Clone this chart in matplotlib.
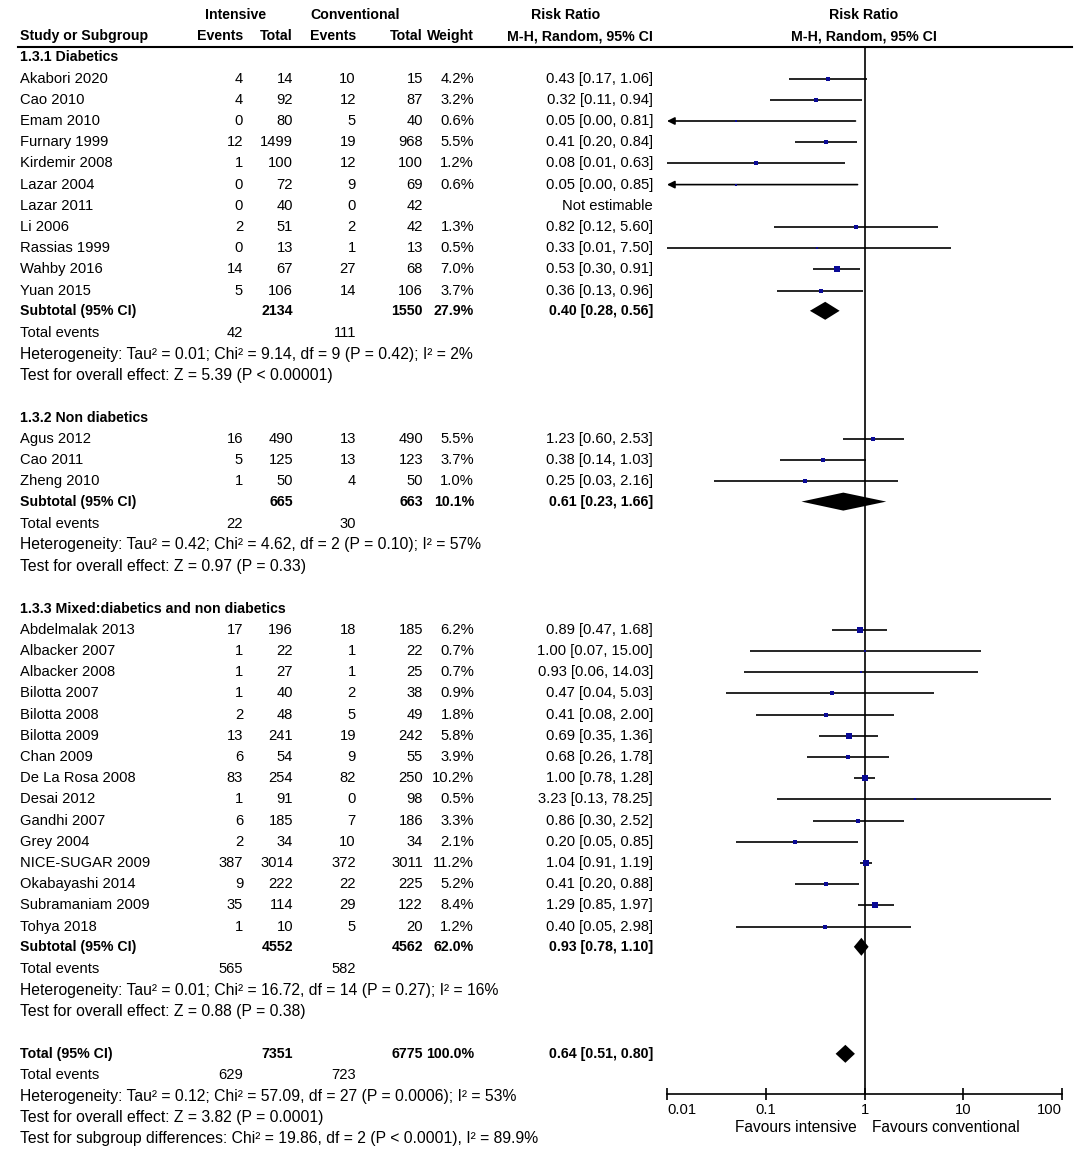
import numpy as np
import matplotlib
matplotlib.use("Agg")
import matplotlib.pyplot as plt

plt.rcParams['font.family'] = ['Liberation Sans', 'DejaVu Sans']

# subgroup 1.3.1
diab_names = ["Akabori 2020", "Cao 2010", "Emam 2010", "Furnary 1999", "Kirdemir 2008", "Lazar 2004",
              "Lazar 2011", "Li 2006", "Rassias 1999", "Wahby 2016", "Yuan 2015"]
diab_ev_i = [4, 4, 0, 12, 1, 0, 0, 2, 0, 14, 5]
diab_tot_i = [14, 92, 80, 1499, 100, 72, 40, 51, 13, 67, 106]
diab_ev_c = [10, 12, 5, 19, 12, 9, 0, 2, 1, 27, 14]
diab_tot_c = [15, 87, 40, 968, 100, 69, 42, 42, 13, 68, 106]
diab_w = [4.2, 3.2, 0.6, 5.5, 1.2, 0.6, None, 1.3, 0.5, 7.0, 3.7]
diab_rr = [0.43, 0.32, 0.05, 0.41, 0.08, 0.05, None, 0.82, 0.33, 0.53, 0.36]
diab_lo = [0.17, 0.11, 0.00, 0.20, 0.01, 0.00, None, 0.12, 0.01, 0.30, 0.13]
diab_hi = [1.06, 0.94, 0.81, 0.84, 0.63, 0.85, None, 5.60, 7.50, 0.91, 0.96]

# subgroup 1.3.2
nond_names = ["Agus 2012", "Cao 2011", "Zheng 2010"]
nond_ev_i = [16, 5, 1]
nond_tot_i = [490, 125, 50]
nond_ev_c = [13, 13, 4]
nond_tot_c = [490, 123, 50]
nond_w = [5.5, 3.7, 1.0]
nond_rr = [1.23, 0.38, 0.25]
nond_lo = [0.60, 0.14, 0.03]
nond_hi = [2.53, 1.03, 2.16]

# subgroup 1.3.3
mix_names = ["Abdelmalak 2013", "Albacker 2007", "Albacker 2008", "Bilotta 2007", "Bilotta 2008",
             "Bilotta 2009", "Chan 2009", "De La Rosa 2008", "Desai 2012", "Gandhi 2007", "Grey 2004",
             "NICE-SUGAR 2009", "Okabayashi 2014", "Subramaniam 2009", "Tohya 2018"]
mix_ev_i = [17, 1, 1, 1, 2, 13, 6, 83, 1, 6, 2, 387, 9, 35, 1]
mix_tot_i = [196, 22, 27, 40, 48, 241, 54, 254, 91, 185, 34, 3014, 222, 114, 10]
mix_ev_c = [18, 1, 1, 2, 5, 19, 9, 82, 0, 7, 10, 372, 22, 29, 5]
mix_tot_c = [185, 22, 25, 38, 49, 242, 55, 250, 98, 186, 34, 3011, 225, 122, 20]
mix_w = [6.2, 0.7, 0.7, 0.9, 1.8, 5.8, 3.9, 10.2, 0.5, 3.3, 2.1, 11.2, 5.2, 8.4, 1.2]
mix_rr = [0.89, 1.00, 0.93, 0.47, 0.41, 0.69, 0.68, 1.00, 3.23, 0.86, 0.20, 1.04, 0.41, 1.29, 0.40]
mix_lo = [0.47, 0.07, 0.06, 0.04, 0.08, 0.35, 0.26, 0.78, 0.13, 0.30, 0.05, 0.91, 0.20, 0.85, 0.05]
mix_hi = [1.68, 15.00, 14.03, 5.03, 2.00, 1.36, 1.78, 1.28, 78.25, 2.52, 0.85, 1.19, 0.88, 1.97, 2.98]

group_titles = ["1.3.1 Diabetics", "1.3.2 Non diabetics", "1.3.3 Mixed:diabetics and non diabetics"]
sub_tot_i = [2134, 665, 4552]
sub_tot_c = [1550, 663, 4562]
sub_w = [27.9, 10.1, 62.0]
sub_rr = [0.40, 0.61, 0.93]
sub_lo = [0.28, 0.23, 0.78]
sub_hi = [0.56, 1.66, 1.10]
sub_ev_i = [42, 22, 565]
sub_ev_c = [111, 30, 582]
sub_het = ["Heterogeneity: Tau\u00b2 = 0.01; Chi\u00b2 = 9.14, df = 9 (P = 0.42); I\u00b2 = 2%",
           "Heterogeneity: Tau\u00b2 = 0.42; Chi\u00b2 = 4.62, df = 2 (P = 0.10); I\u00b2 = 57%",
           "Heterogeneity: Tau\u00b2 = 0.01; Chi\u00b2 = 16.72, df = 14 (P = 0.27); I\u00b2 = 16%"]
sub_test = ["Test for overall effect: Z = 5.39 (P < 0.00001)",
            "Test for overall effect: Z = 0.97 (P = 0.33)",
            "Test for overall effect: Z = 0.88 (P = 0.38)"]

total_tot_i, total_tot_c, total_w = 7351, 6775, 100.0
total_rr, total_lo, total_hi = 0.64, 0.51, 0.80
total_ev_i, total_ev_c = 629, 723
total_het = "Heterogeneity: Tau\u00b2 = 0.12; Chi\u00b2 = 57.09, df = 27 (P = 0.0006); I\u00b2 = 53%"
total_test = "Test for overall effect: Z = 3.82 (P = 0.0001)"
subgroup_test = "Test for subgroup differences: Chi\u00b2 = 19.86, df = 2 (P < 0.0001), I\u00b2 = 89.9%"

xticks = [0.01, 0.1, 1, 10, 100]
xtick_labels = ["0.01", "0.1", "1", "10", "100"]

groups = [
    (diab_names, diab_ev_i, diab_tot_i, diab_ev_c, diab_tot_c, diab_w, diab_rr, diab_lo, diab_hi),
    (nond_names, nond_ev_i, nond_tot_i, nond_ev_c, nond_tot_c, nond_w, nond_rr, nond_lo, nond_hi),
    (mix_names, mix_ev_i, mix_tot_i, mix_ev_c, mix_tot_c, mix_w, mix_rr, mix_lo, mix_hi),
]

W, H = 1084, 1156
FS = 10.6
FS_BOLD = 10.2
FS_STAT = 11.3
x_name, x_ev1, x_tot1, x_ev2, x_tot2, x_w, x_rr = 20, 243, 293, 356, 423, 474, 653
plot_l, plot_r = 667, 1062
axis_y, head_y = 1094, 47


def row_y(i):
    return 15 + 21.2 * i


fig = plt.figure(figsize=(W / 100, H / 100), dpi=100)
ax = fig.add_axes([0, 0, 1, 1])
ax.set_xlim(0, W)
ax.set_ylim(H, 0)
ax.axis('off')

fx = fig.add_axes([plot_l / W, 1 - axis_y / H, (plot_r - plot_l) / W, (axis_y - head_y) / H])
fx.set_xscale('log')
fx.set_xlim(0.01, 100)
fx.set_ylim(axis_y, head_y)
fx.patch.set_alpha(0)
for s in ['top', 'left', 'right']:
    fx.spines[s].set_visible(False)
fx.spines['bottom'].set_linewidth(1.2)
fx.set_yticks([])
fx.set_xticks(xticks)
fx.minorticks_off()
fx.set_xticklabels(xtick_labels, fontsize=FS)
fx.tick_params(axis='x', direction='inout', length=9, width=1.2, pad=2)
labs = fx.get_xticklabels()
labs[0].set_ha('left')
labs[-1].set_ha('right')
fx.axvline(1, color='black', lw=1.2, clip_on=False)


def txt(x, y, s, ha='right', bold=False, size=None):
    if size is None:
        size = FS_BOLD if bold else FS
    ax.text(x, y, s, ha=ha, va='center', fontsize=size, fontweight='bold' if bold else 'normal')


def diamond(y, rr, lo, hi):
    fx.fill([lo, rr, hi, rr], [y, y - 9, y, y + 9], color='black', lw=0)


# header
txt(236, row_y(0), "Intensive", ha='center', bold=True)
txt(355, row_y(0), "Conventional", ha='center', bold=True)
txt(566, row_y(0), "Risk Ratio", ha='center', bold=True)
txt(864, row_y(0), "Risk Ratio", ha='center', bold=True)
txt(x_name, row_y(1), "Study or Subgroup", ha='left', bold=True)
for x, s in [(x_ev1, "Events"), (x_tot1, "Total"), (x_ev2, "Events"), (x_tot2, "Total"), (x_w, "Weight"),
             (x_rr, "M-H, Random, 95% CI")]:
    txt(x, row_y(1), s, bold=True)
txt(864, row_y(1), "M-H, Random, 95% CI", ha='center', bold=True)
ax.plot([18, 1072], [head_y, head_y], color='black', lw=1.5)

i = 2
for g, (names, evi, toti, evc, totc, w, rr, lo, hi) in enumerate(groups):
    txt(x_name, row_y(i), group_titles[g], ha='left', bold=True)
    i += 1
    for k in range(len(names)):
        y = row_y(i)
        txt(x_name, y, names[k], ha='left')
        txt(x_ev1, y, str(evi[k]))
        txt(x_tot1, y, str(toti[k]))
        txt(x_ev2, y, str(evc[k]))
        txt(x_tot2, y, str(totc[k]))
        if rr[k] is None:
            txt(x_rr, y, "Not estimable")
        else:
            txt(x_w, y, "%.1f%%" % w[k])
            txt(x_rr, y, "%.2f [%.2f, %.2f]" % (rr[k], lo[k], hi[k]))
            if lo[k] < 0.01:
                fx.annotate('', xy=(0.01, y), xytext=(hi[k], y),
                            arrowprops=dict(arrowstyle='-|>', color='black', lw=1.2,
                                            mutation_scale=11, shrinkA=0, shrinkB=0),
                            annotation_clip=False)
            else:
                fx.plot([lo[k], hi[k]], [y, y], color='black', lw=1.2, solid_capstyle='butt')
            side = 1.8 + 1.35 * np.sqrt(w[k])
            fx.scatter([rr[k]], [y], marker='s', s=(side * 0.72) ** 2, color='#0a0a96', lw=0, zorder=3)
        i += 1
    y = row_y(i) - 1
    txt(x_name, y, "Subtotal (95% CI)", ha='left', bold=True)
    txt(x_tot1, y, str(sub_tot_i[g]), bold=True)
    txt(x_tot2, y, str(sub_tot_c[g]), bold=True)
    txt(x_w, y, "%.1f%%" % sub_w[g], bold=True)
    txt(x_rr, y, "%.2f [%.2f, %.2f]" % (sub_rr[g], sub_lo[g], sub_hi[g]), bold=True)
    diamond(y, sub_rr[g], sub_lo[g], sub_hi[g])
    i += 1
    txt(x_name, row_y(i), "Total events", ha='left')
    txt(x_ev1, row_y(i), str(sub_ev_i[g]))
    txt(x_ev2, row_y(i), str(sub_ev_c[g]))
    txt(x_name, row_y(i + 1), sub_het[g], ha='left', size=FS_STAT)
    txt(x_name, row_y(i + 2), sub_test[g], ha='left', size=FS_STAT)
    i += 4

y = row_y(i)
txt(x_name, y, "Total (95% CI)", ha='left', bold=True)
txt(x_tot1, y, str(total_tot_i), bold=True)
txt(x_tot2, y, str(total_tot_c), bold=True)
txt(x_w, y, "%.1f%%" % total_w, bold=True)
txt(x_rr, y, "%.2f [%.2f, %.2f]" % (total_rr, total_lo, total_hi), bold=True)
diamond(y, total_rr, total_lo, total_hi)
txt(x_name, row_y(i + 1), "Total events", ha='left')
txt(x_ev1, row_y(i + 1), str(total_ev_i))
txt(x_ev2, row_y(i + 1), str(total_ev_c))
txt(x_name, row_y(i + 2), total_het, ha='left', size=FS_STAT)
txt(x_name, row_y(i + 3), total_test, ha='left', size=FS_STAT)
txt(x_name, row_y(i + 4), subgroup_test, ha='left', size=FS_STAT)

txt(857, 1128, "Favours intensive", ha='right', size=11.2)
txt(872, 1128, "Favours conventional", ha='left', size=11.2)

fig.savefig("out.png", dpi=100)
